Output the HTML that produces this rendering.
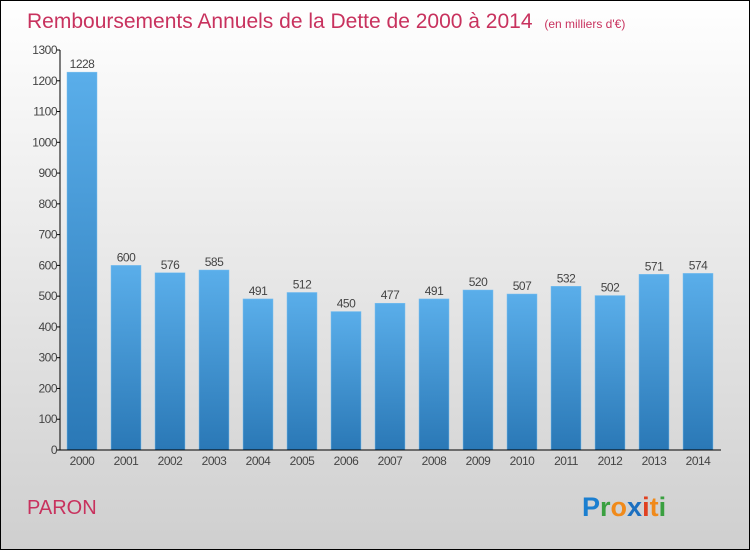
<!DOCTYPE html>
<html><head><meta charset="utf-8"><style>
body{margin:0}
svg{display:block;font-family:"Liberation Sans",sans-serif}
</style></head><body>
<svg width="750" height="550">
<defs>
<linearGradient id="bg" x1="0" y1="0" x2="0" y2="1"><stop offset="0" stop-color="#ffffff"/><stop offset="1" stop-color="#cfcfcf"/></linearGradient>
<linearGradient id="bar" x1="0" y1="0" x2="0" y2="1"><stop offset="0" stop-color="#5aaeea"/><stop offset="1" stop-color="#2a78b6"/></linearGradient>
</defs>
<rect x="0.5" y="0.5" width="749" height="549" fill="url(#bg)" stroke="#000"/>
<text x="27" y="28" font-size="21" fill="#c8325e">Remboursements Annuels de la Dette de 2000 à 2014 <tspan font-size="12" dx="6">(en milliers d'€)</tspan></text>
<g id="plot"></g>
<text x="27" y="514" font-size="20" fill="#c8325e">PARON</text>
<g font-size="27" font-family="'Liberation Sans',sans-serif" font-weight="bold">
<text x="582" y="516"><tspan fill="#1b7fd0">P</tspan><tspan fill="#3aa040">r</tspan><tspan fill="#f08a1a">o</tspan><tspan fill="#1b6fc0">x</tspan><tspan fill="#e04020">i</tspan><tspan fill="#f08a1a">t</tspan><tspan fill="#3aa040">i</tspan></text>
</g>
</svg>
<script>
const years=["2000","2001","2002","2003","2004","2005","2006","2007","2008","2009","2010","2011","2012","2013","2014"];
const values=[1228,600,576,585,491,512,450,477,491,520,507,532,502,571,574];
const yTicks=[0,100,200,300,400,500,600,700,800,900,1000,1100,1200,1300];
const NS="http://www.w3.org/2000/svg";
const g=document.getElementById('plot');
const y0=450,yTop=50,yMax=1300;
const Y=v=>y0-(v/yMax)*(y0-yTop);
const X=i=>67+i*44;
function mk(t,a,txt){const e=document.createElementNS(NS,t);for(const k in a)e.setAttribute(k,a[k]);if(txt!==undefined)e.textContent=txt;g.appendChild(e);return e;}
yTicks.forEach(v=>{
 const l=mk('line',{x1:56,x2:60,y1:Y(v),y2:Y(v),stroke:'#000'});
 
 
 const t=mk('text',{x:57,y:Y(v)+4,'text-anchor':'end','font-size':12,fill:'#444','letter-spacing':'-0.5'},v);
 
 
});
values.forEach((v,i)=>{
 const r=mk('rect',{x:X(i),y:Y(v),width:30,height:y0-Y(v),fill:'url(#bar)',stroke:'#7cc0ef','stroke-width':0.5});
 
 
 const t=mk('text',{x:X(i)+15,y:Y(v)-4,'text-anchor':'middle','font-size':12,fill:'#444','letter-spacing':'-0.5'},v);
 
 
 const xt=mk('text',{x:X(i)+15,y:465,'text-anchor':'middle','font-size':12,fill:'#444','letter-spacing':'-0.5'},years[i]);
 
 
});
const ya=mk('line',{x1:60,x2:60,y1:yTop,y2:y0,stroke:'#000'});


const xa=mk('line',{x1:60,x2:721,y1:y0,y2:y0,stroke:'#000'});


</script>
</body></html>
